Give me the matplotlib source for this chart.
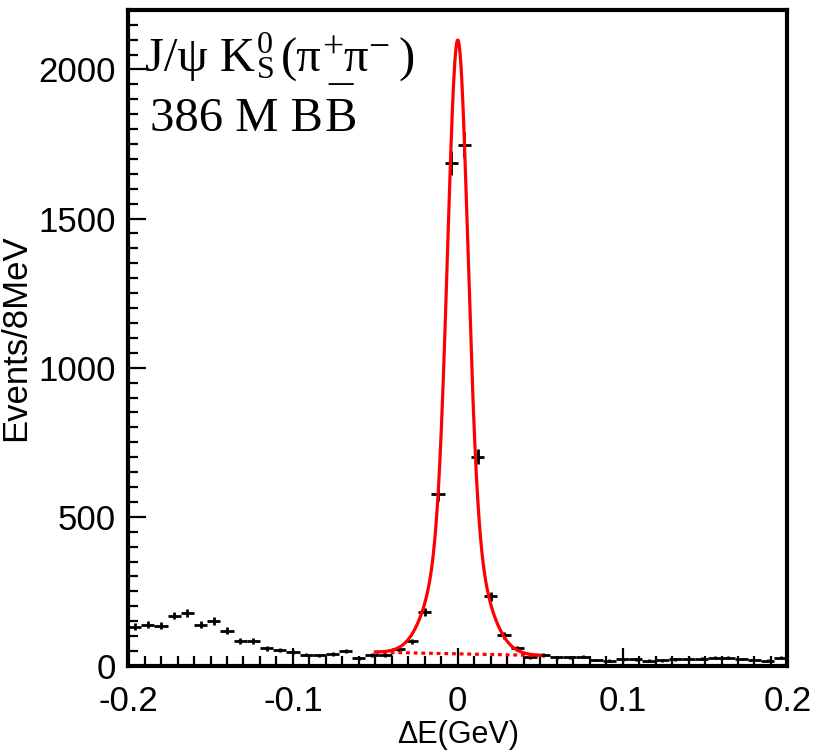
import numpy as np
import matplotlib
matplotlib.use("Agg")
import matplotlib.pyplot as plt
from matplotlib.ticker import MultipleLocator

# Delta E histogram, 8 MeV bins from -0.2 to 0.2 GeV
bin_lo, bin_hi, bin_w = -0.2, 0.2, 0.008
counts = [132, 138, 135, 169, 177, 138, 151, 118, 84, 84,
          59, 54, 48, 38, 35, 39, 49, 26, 37, 37,
          56, 82, 182, 576, 1687, 1747, 702, 233, 102, 59,
          29, 37, 29, 29, 31, 20, 18, 22, 22, 18,
          19, 22, 24, 24, 28, 28, 23, 20, 18, 28]

# fit result (double gaussian + linear background), drawn over the fit window
fit_range = (-0.05, 0.05)
fit_mean = 0.0
core_amp, core_sigma = 1608, 0.006
tail_amp, tail_sigma = 450, 0.014
bkg_left, bkg_right = 46, 35

plt.rcParams['font.family'] = ['Liberation Sans', 'DejaVu Sans']

edges = np.arange(bin_lo, bin_hi + bin_w / 2, bin_w)
centers = 0.5 * (edges[:-1] + edges[1:])
counts = np.array(counts)

fig = plt.figure(figsize=(8.16, 7.55), dpi=100)
ax = fig.add_axes([0.157, 0.118, 0.808, 0.869])

ax.errorbar(centers, counts, xerr=bin_w / 2, yerr=np.sqrt(counts),
            fmt='none', ecolor='black', elinewidth=2.0, capsize=0)

xf = np.linspace(fit_range[0], fit_range[1], 600)
bkg = bkg_left + (bkg_right - bkg_left) * (xf - fit_range[0]) / (fit_range[1] - fit_range[0])
sig = (core_amp * np.exp(-0.5 * ((xf - fit_mean) / core_sigma) ** 2)
       + tail_amp * np.exp(-0.5 * ((xf - fit_mean) / tail_sigma) ** 2))
ax.plot(xf, sig + bkg, color='#ff0000', lw=2.3)
ax.plot(xf, bkg, color='#ff0000', lw=2.3, ls=(0, (1.2, 1.2)))

ax.set_xlim(bin_lo, bin_hi)
ax.set_ylim(0, 2200)
ax.xaxis.set_minor_locator(MultipleLocator(0.01))
ax.yaxis.set_minor_locator(MultipleLocator(50))
ax.set_xticks([-0.2, -0.1, 0, 0.1, 0.2])
ax.set_xticklabels(['-0.2', '-0.1', '0', '0.1', '0.2'])
ax.set_yticks([0, 500, 1000, 1500, 2000])
ax.set_yticklabels(['0', '500', '1000', '1500', '2000'])

ax.tick_params(which='major', direction='in', length=13, width=1.6, labelsize=25)
ax.tick_params(axis='x', which='major', pad=14)
ax.tick_params(axis='y', which='major', pad=9)
ax.tick_params(which='minor', direction='in', length=7, width=1.6)
for s in ax.spines.values():
    s.set_linewidth(3)

ax.set_xlabel('ΔE(GeV)', fontsize=22, labelpad=1)
ax.set_ylabel('Events/8MeV', fontsize=25, labelpad=4)

# decay label, built piece by piece (sub/superscripts as raised/lowered text)
serif = 'Liberation Serif'
big, small = 35, 23


def piece(s, prev, y0, dx, dy, size, ha='left', xfrac=1):
    return ax.annotate(s, xy=(xfrac, y0), xycoords=(prev, 'axes fraction'),
                       xytext=(dx, dy), textcoords='offset points',
                       fontsize=size, family=serif, ha=ha, va='baseline')


y1 = 0.906
t = ax.text(0.026, y1, 'J/ψ K', transform=ax.transAxes, fontsize=big,
            family=serif, ha='left', va='baseline')
piece('0', t, y1, 1, 13, small)
t = piece('S', t, y1, 1, -5, small)
t = piece('(π', t, y1, 5, 0, big)
t = piece('+', t, y1, 0, 10, 27)
t = piece('π', t, y1, 0, 0, big)
t = piece('−', t, y1, 0, 10, 27)
piece(')', t, y1, 7, 0, big)

y2 = 0.815
t = ax.text(0.033, y2, '386 M B', transform=ax.transAxes, fontsize=big,
            family=serif, ha='left', va='baseline')
t = piece('B', t, y2, 1, 0, big)
piece('¯', t, y2, 0, 8, big, ha='center', xfrac=0.5)

fig.savefig('out.png', dpi=100)
